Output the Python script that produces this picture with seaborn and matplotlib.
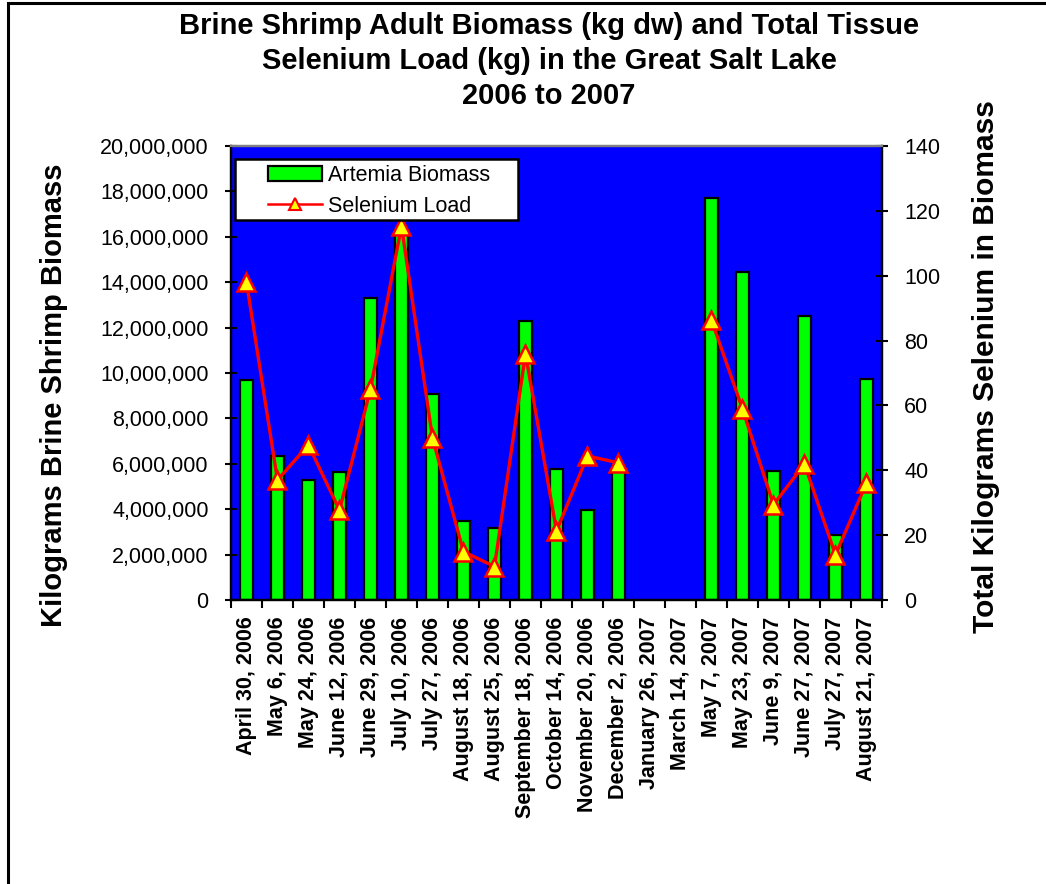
import numpy as np
import pandas as pd
import matplotlib
matplotlib.use('Agg')
import matplotlib.pyplot as plt
import seaborn as sns
from matplotlib.patches import Rectangle, Patch
from matplotlib.lines import Line2D
from matplotlib.ticker import FuncFormatter, MultipleLocator

# Sampling dates (categories)
dates = ['April 30, 2006', 'May 6, 2006', 'May 24, 2006', 'June 12, 2006',
         'June 29, 2006', 'July 10, 2006', 'July 27, 2006', 'August 18, 2006',
         'August 25, 2006', 'September 18, 2006', 'October 14, 2006',
         'November 20, 2006', 'December 2, 2006', 'January 26, 2007',
         'March 14, 2007', 'May 7, 2007', 'May 23, 2007', 'June 9, 2007',
         'June 27, 2007', 'July 27, 2007', 'August 21, 2007']

# Artemia biomass (kg dw) - no samples in Jan / Mar 2007
biomass = [9.7e6, 6.35e6, 5.3e6, 5.65e6, 13.3e6, 16.3e6, 9.07e6, 3.5e6,
           3.16e6, 12.3e6, 5.77e6, 3.98e6, 5.9e6, np.nan,
           np.nan, 17.7e6, 14.43e6, 5.68e6, 12.5e6, 2.84e6, 9.74e6]

# Total selenium load (kg)
selenium = [98.0, 37.0, 47.8, 27.7, 65.0, 115.3, 50.0, 14.9,
            10.3, 75.9, 21.3, 44.4, 42.3, np.nan,
            np.nan, 86.3, 58.9, 29.4, 41.9, 13.9, 36.1]

df = pd.DataFrame({'date': dates, 'biomass': biomass, 'selenium': selenium})
df['pos'] = np.arange(len(dates))
# the line is broken where there is no data
df['segment'] = df['selenium'].isna().cumsum()
line_df = df.dropna(subset=['selenium'])

plt.rcParams['font.family'] = ['Liberation Sans', 'DejaVu Sans']

fig = plt.figure(figsize=(10.46, 8.84), dpi=100)
ax = fig.add_axes([0.2208, 0.3213, 0.6224, 0.5136])
ax.set_facecolor('#0000FF')

sns.barplot(x='date', y='biomass', data=df, order=dates, color='#00FF00',
            saturation=1, width=0.42, edgecolor='black', linewidth=1.6, ax=ax)

ax2 = ax.twinx()
sns.lineplot(x='pos', y='selenium', data=line_df, units='segment', estimator=None,
             color='red', linewidth=2.4, marker='^', markersize=13.5,
             markerfacecolor='yellow', markeredgecolor='red', markeredgewidth=1.8,
             ax=ax2, legend=False)

# axes limits / ticks
ax.set_xlim(-0.5, len(dates) - 0.5)
ax2.set_xlim(-0.5, len(dates) - 0.5)
ax.set_ylim(0, 20000000)
ax2.set_ylim(0, 140)
ax.yaxis.set_major_locator(MultipleLocator(2000000))
ax2.yaxis.set_major_locator(MultipleLocator(20))
ax.yaxis.set_major_formatter(FuncFormatter(lambda v, p: f'{int(v):,}'))

ax.set_xticks(np.arange(len(dates)))
ax.set_xticklabels(dates, rotation=90, fontsize=15.5, fontweight='bold')
ax.set_xticks(np.arange(-0.5, len(dates)), minor=True)
ax.tick_params(axis='x', which='major', length=0, pad=12)
ax.tick_params(axis='x', which='minor', length=6, width=1.5, direction='out')
ax.tick_params(axis='y', length=8, width=1.5, direction='inout', pad=12, labelsize=15.5)
ax2.tick_params(axis='y', length=8, width=1.5, direction='inout', pad=12, labelsize=15.5)
ax2.tick_params(axis='x', which='both', length=0, labelbottom=False)

for a in (ax, ax2):
    for s in a.spines.values():
        s.set_linewidth(1.6)
        s.set_color('black')
    a.spines['top'].set_color('#808080')

ax.set_xlabel('')
ax2.set_xlabel('')
ax.set_ylabel('Kilograms Brine Shrimp Biomass', fontsize=21, fontweight='bold')
ax.yaxis.set_label_coords(-0.25, 0.45)
ax2.set_ylabel('Total Kilograms Selenium in Biomass', fontsize=21.5, fontweight='bold')
ax2.yaxis.set_label_coords(1.138, 0.513)

# legend with an Excel-like box
ax2.add_patch(Rectangle((0.0061, 0.837), 0.4347, 0.1344, transform=ax2.transAxes,
                        facecolor='white', edgecolor='black', linewidth=1.8, zorder=5))
handles = [Patch(facecolor='#00FF00', edgecolor='black', linewidth=1.6),
           Line2D([0], [0], color='red', linewidth=1.8, marker='^', markersize=9,
                  markerfacecolor='yellow', markeredgecolor='red', markeredgewidth=1.5)]
leg = ax2.legend(handles, ['Artemia Biomass', 'Selenium Load'], loc='upper left',
                 bbox_to_anchor=(0.040, 0.982), frameon=False, fontsize=15.5,
                 borderpad=0, handlelength=2.5, handletextpad=0.3, labelspacing=0.45)
leg.set_zorder(6)

fig.text(0.525, 0.986, 'Brine Shrimp Adult Biomass (kg dw) and Total Tissue\n'
         'Selenium Load (kg) in the Great Salt Lake\n2006 to 2007',
         ha='center', va='top', fontsize=21, fontweight='bold', linespacing=1.3)

# outer chart border
fig.patches.append(Rectangle((0.0072, -0.5), 2, 1.4966, transform=fig.transFigure,
                             fill=False, edgecolor='black', linewidth=2.2))

fig.savefig('out.png', dpi=100)
